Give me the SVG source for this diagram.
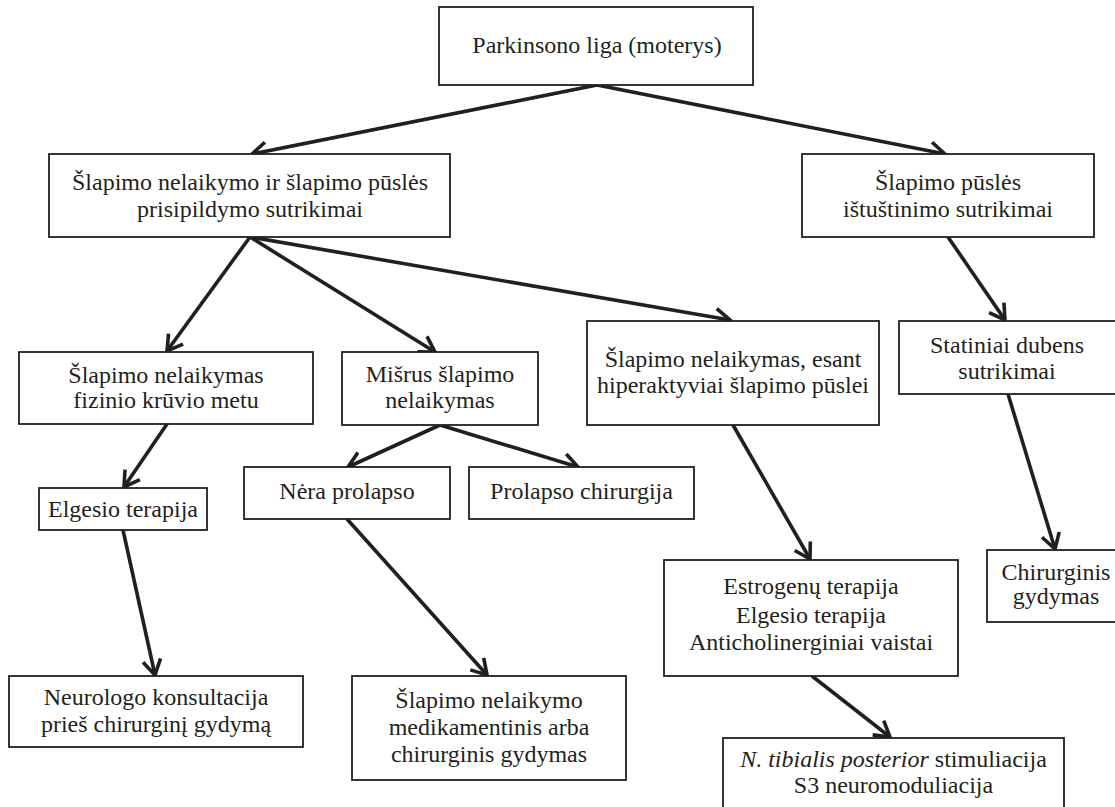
<svg xmlns="http://www.w3.org/2000/svg" width="1115" height="807" viewBox="0 0 1115 807">
<style>
.box rect{fill:#fff;stroke:#231f20;stroke-width:1.8}
.box text{font-size:24px;fill:#231f20;text-anchor:middle}
.edge{stroke:#231f20;stroke-width:3.6;fill:none;stroke-linecap:butt}
.it{font-style:italic}
</style>
<defs>
<marker id="ah" markerUnits="userSpaceOnUse" viewBox="0 0 20 22" markerWidth="20" markerHeight="22" refX="16" refY="11" orient="auto">
<path d="M1,2 L16,11 L1,20" fill="none" stroke="#231f20" stroke-width="3.6" stroke-linejoin="miter"/>
</marker>
</defs>
<rect width="1115" height="807" fill="#fff"/>
<g id="connectors">
<line class="edge" x1="597" y1="85" x2="252" y2="154" marker-end="url(#ah)"/>
<line class="edge" x1="597" y1="85" x2="945" y2="154" marker-end="url(#ah)"/>
<line class="edge" x1="250" y1="237" x2="167" y2="351" marker-end="url(#ah)"/>
<line class="edge" x1="250" y1="237" x2="435" y2="352" marker-end="url(#ah)"/>
<line class="edge" x1="250" y1="237" x2="730" y2="320" marker-end="url(#ah)"/>
<line class="edge" x1="948" y1="237" x2="1005" y2="320" marker-end="url(#ah)"/>
<line class="edge" x1="167" y1="424" x2="124" y2="487" marker-end="url(#ah)"/>
<line class="edge" x1="440" y1="425" x2="348" y2="467" marker-end="url(#ah)"/>
<line class="edge" x1="440" y1="425" x2="578" y2="467" marker-end="url(#ah)"/>
<line class="edge" x1="123" y1="530" x2="155" y2="675" marker-end="url(#ah)"/>
<line class="edge" x1="347" y1="519" x2="487" y2="675" marker-end="url(#ah)"/>
<line class="edge" x1="733" y1="425" x2="810" y2="559" marker-end="url(#ah)"/>
<line class="edge" x1="1008" y1="394" x2="1055" y2="549" marker-end="url(#ah)"/>
<line class="edge" x1="812" y1="676" x2="890" y2="737" marker-end="url(#ah)"/>
</g>
<g font-family="'Liberation Serif', 'Times New Roman', 'DejaVu Serif', serif">
<g id="n-parkinson" class="box">
<rect x="439" y="7" width="314" height="78"/>
<text x="597" y="53">Parkinsono liga (moterys)</text>
</g>
<g id="n-prisipildymo" class="box">
<rect x="49" y="154" width="401" height="83"/>
<text x="250" y="190">Šlapimo nelaikymo ir šlapimo pūslės</text>
<text x="250" y="217">prisipildymo sutrikimai</text>
</g>
<g id="n-istustinimo" class="box">
<rect x="802" y="154" width="292" height="83"/>
<text x="948" y="190">Šlapimo pūslės</text>
<text x="948" y="217">ištuštinimo sutrikimai</text>
</g>
<g id="n-fizinio" class="box">
<rect x="19" y="352" width="294" height="72"/>
<text x="166" y="383">Šlapimo nelaikymas</text>
<text x="166" y="408">fizinio krūvio metu</text>
</g>
<g id="n-misrus" class="box">
<rect x="342" y="352" width="196" height="73"/>
<text x="440" y="382">Mišrus šlapimo</text>
<text x="440" y="408">nelaikymas</text>
</g>
<g id="n-hiperaktyviai" class="box">
<rect x="587" y="321" width="292" height="104"/>
<text x="733" y="367">Šlapimo nelaikymas, esant</text>
<text x="733" y="393">hiperaktyviai šlapimo pūslei</text>
</g>
<g id="n-statiniai" class="box">
<rect x="899" y="321" width="220" height="73"/>
<text x="1007" y="353">Statiniai dubens</text>
<text x="1007" y="379">sutrikimai</text>
</g>
<g id="n-elgesio" class="box">
<rect x="39" y="488" width="168" height="42"/>
<text x="123" y="517">Elgesio terapija</text>
</g>
<g id="n-nera" class="box">
<rect x="244" y="467" width="206" height="52"/>
<text x="347" y="499">Nėra prolapso</text>
</g>
<g id="n-prolapso" class="box">
<rect x="469" y="467" width="225" height="52"/>
<text x="581.5" y="499">Prolapso chirurgija</text>
</g>
<g id="n-estrogenu" class="box">
<rect x="664" y="560" width="294" height="116"/>
<text x="811" y="594">Estrogenų terapija</text>
<text x="811" y="623">Elgesio terapija</text>
<text x="811" y="650">Anticholinerginiai vaistai</text>
</g>
<g id="n-chirurginis" class="box">
<rect x="987" y="550" width="132" height="72"/>
<text x="1056" y="580">Chirurginis</text>
<text x="1056" y="604">gydymas</text>
</g>
<g id="n-neurologo" class="box">
<rect x="9" y="676" width="294" height="71"/>
<text x="156" y="705">Neurologo konsultacija</text>
<text x="156" y="732">prieš chirurginį gydymą</text>
</g>
<g id="n-medikamentinis" class="box">
<rect x="352" y="676" width="274" height="104"/>
<text x="489" y="708">Šlapimo nelaikymo</text>
<text x="489" y="735">medikamentinis arba</text>
<text x="489" y="762">chirurginis gydymas</text>
</g>
<g id="n-tibialis" class="box">
<rect x="723" y="738" width="341" height="80"/>
<text x="893.5" y="767"><tspan class="it">N. tibialis posterior</tspan> stimuliacija</text>
<text x="893.5" y="793">S3 neuromoduliacija</text>
</g>
</g>
</svg>
